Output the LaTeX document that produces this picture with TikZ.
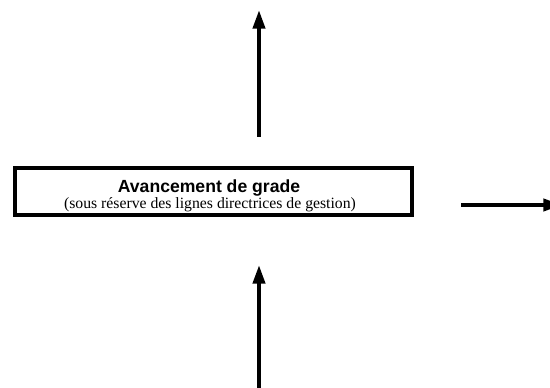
\documentclass[tikz,border=0pt]{standalone}
\usepackage{fontspec}
\setmainfont{Liberation Serif}
\setsansfont{Liberation Sans}
\usetikzlibrary{arrows.meta}
\begin{document}
\begin{tikzpicture}[x=0.75pt,y=-0.75pt,
  gradebox/.style={draw,line width=3pt,minimum width=297.75pt,minimum height=35.25pt,inner sep=0pt},
  flow/.style={line width=3pt,-{Triangle[length=14pt,width=9pt]}}]
\pgfmathsetmacro{\ax}{259}
\clip(0,0)rectangle(550,388);
\node[gradebox](grade)at(213.5,191.5){};
\node[anchor=base,inner sep=0pt,font=\sffamily\bfseries\fontsize{13.2}{14}\selectfont](title)at(209,193){Avancement de grade};
\node[anchor=base,inner sep=0pt,font=\rmfamily\fontsize{11.8}{13}\selectfont](note)at(210,209){(sous réserve des lignes directrices de gestion)};
\coordinate(up0)at(\ax,137);
\coordinate(up1)at(\ax,10);
\coordinate(lo0)at(\ax,390);
\coordinate(lo1)at(\ax,265);
\coordinate(rt0)at(461,205);
\coordinate(rt1)at(562,205);
\draw[flow](up0)--(up1);
\draw[flow](lo0)--(lo1);
\draw[flow](rt0)--(rt1);
\end{tikzpicture}
\end{document}
